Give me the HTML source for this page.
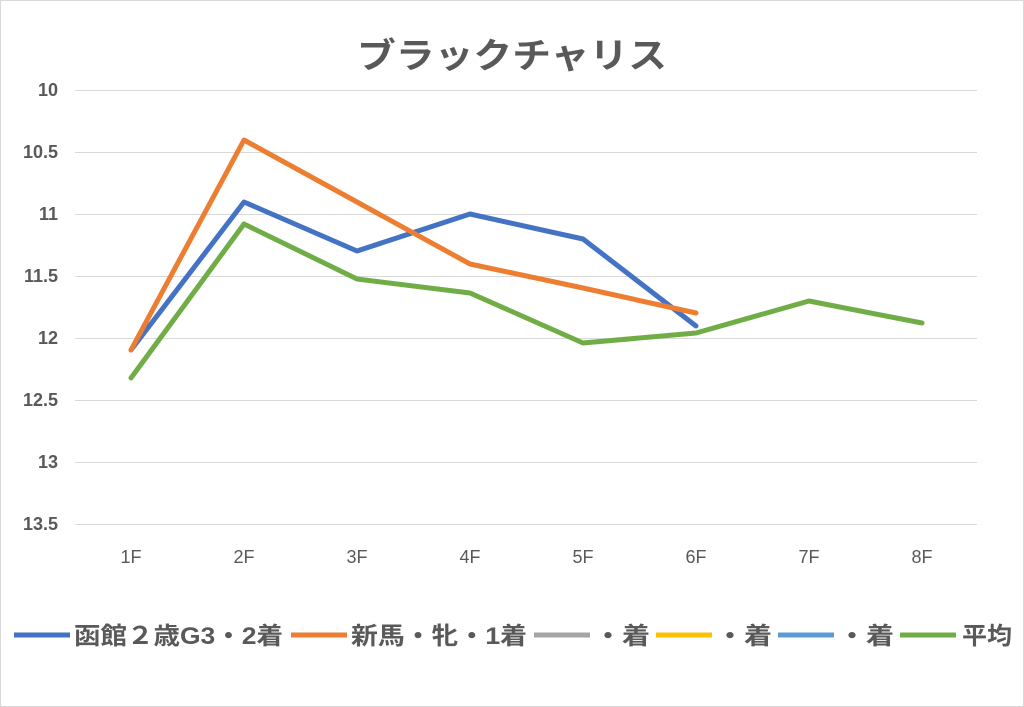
<!DOCTYPE html>
<html><head><meta charset="utf-8"><style>
body{margin:0;background:#fff;}
svg{display:block;font-family:"Liberation Sans","Noto Sans CJK JP",sans-serif;}
</style></head><body>
<svg width="1024" height="707" viewBox="0 0 1024 707">
<rect x="0.5" y="0.5" width="1023" height="706" fill="#fff" stroke="#d9d9d9"/>
<text x="357" y="68" font-size="35" font-weight="bold" fill="#595959" textLength="310" lengthAdjust="spacingAndGlyphs">ブラックチャリス</text>
<g stroke="#d9d9d9" stroke-width="1">
<line x1="75" x2="977" y1="90.5" y2="90.5"/><line x1="75" x2="977" y1="152.5" y2="152.5"/>
<line x1="75" x2="977" y1="214.5" y2="214.5"/><line x1="75" x2="977" y1="276.5" y2="276.5"/>
<line x1="75" x2="977" y1="338.5" y2="338.5"/><line x1="75" x2="977" y1="400.5" y2="400.5"/>
<line x1="75" x2="977" y1="462.5" y2="462.5"/><line x1="75" x2="977" y1="524.5" y2="524.5"/>
</g>
<g font-size="18" font-weight="bold" fill="#595959" text-anchor="end">
<text x="58" y="96">10</text><text x="58" y="158">10.5</text><text x="58" y="220">11</text>
<text x="58" y="282">11.5</text><text x="58" y="344">12</text><text x="58" y="406">12.5</text>
<text x="58" y="468">13</text><text x="58" y="530">13.5</text>
</g>
<g font-size="18" fill="#595959" text-anchor="middle">
<text x="131" y="563">1F</text><text x="244" y="563">2F</text><text x="357" y="563">3F</text>
<text x="470" y="563">4F</text><text x="583" y="563">5F</text><text x="696" y="563">6F</text>
<text x="809" y="563">7F</text><text x="922" y="563">8F</text>
</g>
<g fill="none" stroke-width="5" stroke-linejoin="round" stroke-linecap="round">
<polyline stroke="#4472c4" points="131,350 244,202 357,251 470,214 583,239 696,326"/>
<polyline stroke="#ed7d31" points="131,350 244,140 357,202 470,264 583,288 696,313"/>
<polyline stroke="#70ad47" points="131,378 244,224 357,279 470,293 583,343 696,333 809,301 922,323"/>
</g>
<g stroke-width="5">
<line x1="14" x2="70" y1="635" y2="635" stroke="#4472c4"/>
<line x1="291" x2="347" y1="635" y2="635" stroke="#ed7d31"/>
<line x1="534" x2="590" y1="635" y2="635" stroke="#a5a5a5"/>
<line x1="656" x2="712" y1="635" y2="635" stroke="#ffc000"/>
<line x1="778" x2="834" y1="635" y2="635" stroke="#5b9bd5"/>
<line x1="900" x2="956" y1="635" y2="635" stroke="#70ad47"/>
</g>
<g font-size="24" font-weight="bold" fill="#595959">
<text x="74" y="644" textLength="209" lengthAdjust="spacingAndGlyphs">函館２歳G3・2着</text>
<text x="351" y="644" textLength="176" lengthAdjust="spacingAndGlyphs">新馬・牝・1着</text>
<text x="594" y="644" textLength="56" lengthAdjust="spacingAndGlyphs">・着</text>
<text x="716" y="644" textLength="56" lengthAdjust="spacingAndGlyphs">・着</text>
<text x="838" y="644" textLength="56" lengthAdjust="spacingAndGlyphs">・着</text>
<text x="962" y="644" textLength="50" lengthAdjust="spacingAndGlyphs">平均</text>
</g>
</svg>
</body></html>
